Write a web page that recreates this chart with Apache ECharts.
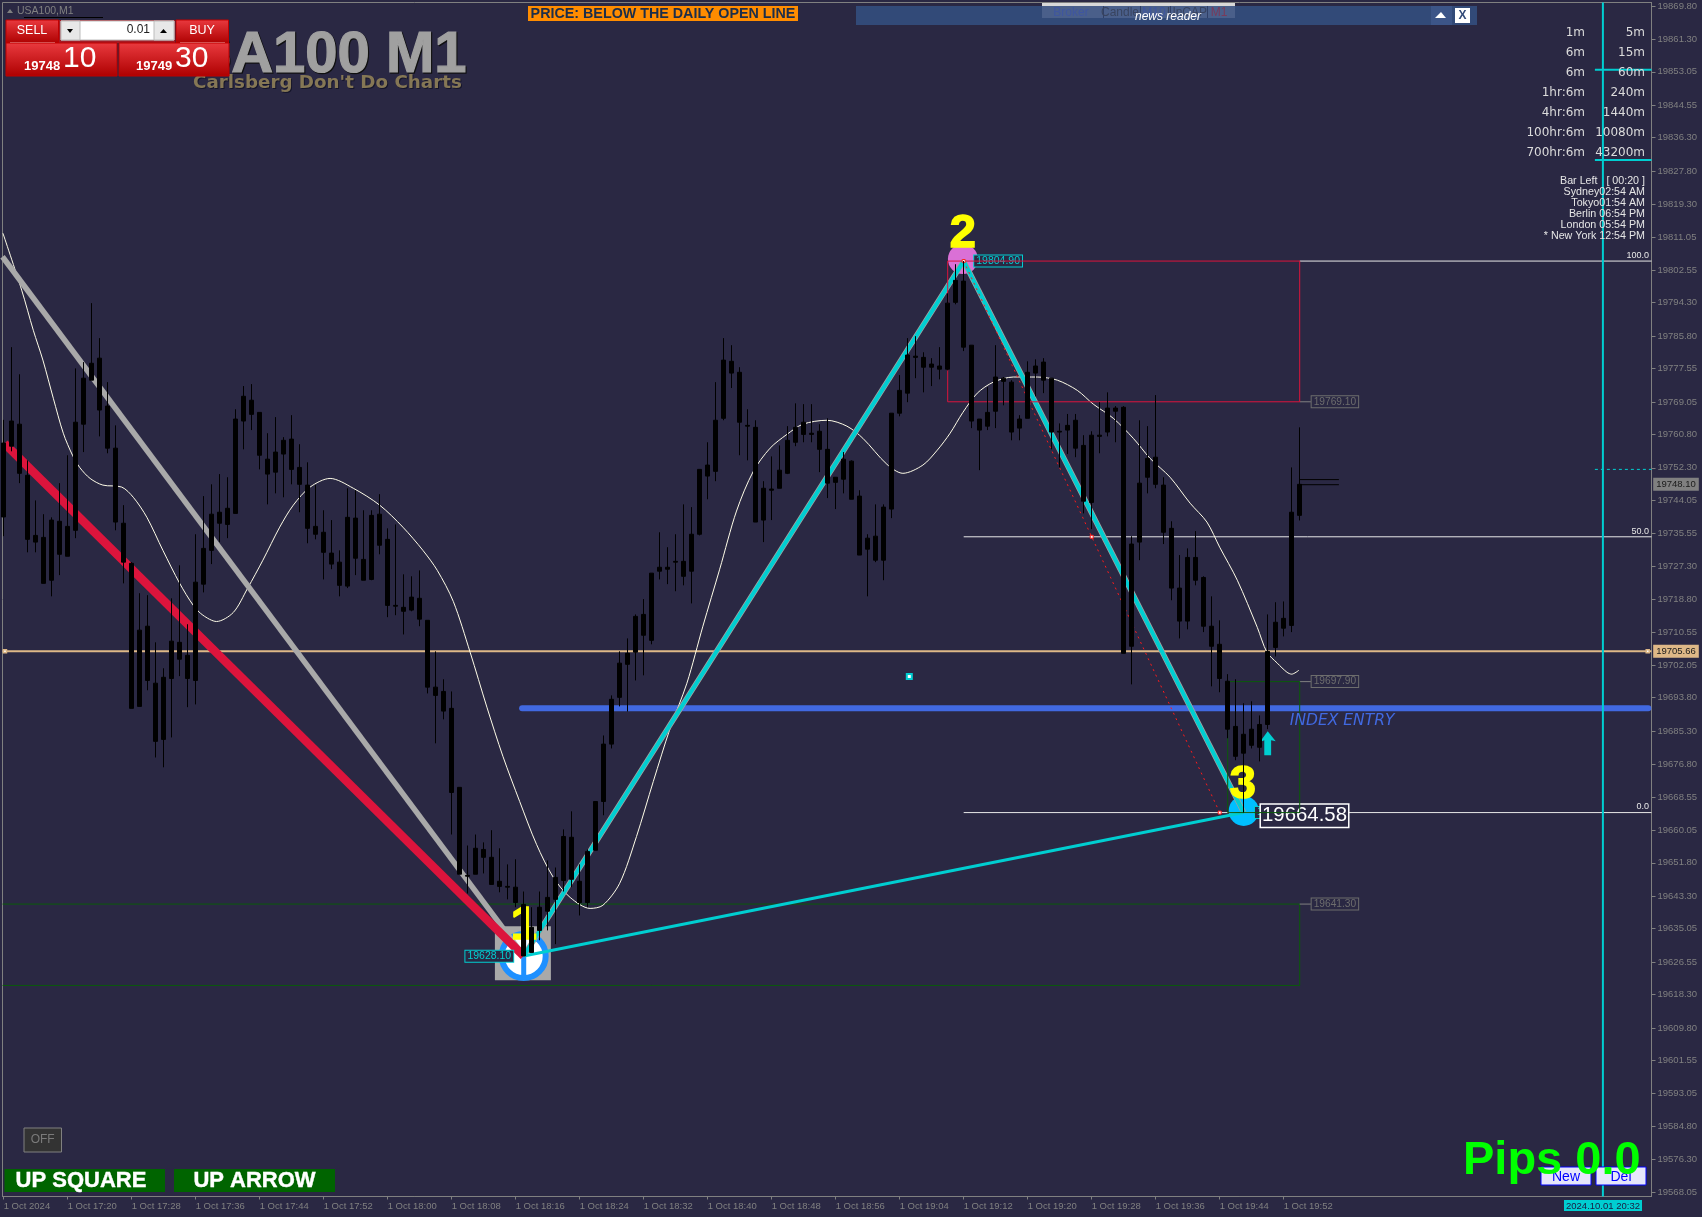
<!DOCTYPE html>
<html><head><meta charset="utf-8"><style>html,body{margin:0;padding:0;background:#2a2843;overflow:hidden}#c{width:1702px;height:1217px}</style>
<script src="https://cdn.jsdelivr.net/npm/echarts@6/dist/echarts.min.js"></script></head><body><div id="c"></div><script>
const highs=[19764.5,19783.0,19776.1,19754.2,19744.0,19740.5,19739.7,19748.4,19755.5,19777.6,
19779.2,19794.2,19785.3,19774.1,19763.1,19742.8,19728.3,19720.4,19719.9,19707.9,
19701.3,19719.1,19727.5,19712.5,19735.4,19745.1,19748.1,19750.7,19749.9,19767.2,
19773.1,19773.6,19766.4,19761.1,19765.2,19760.1,19765.7,19758.3,19753.7,19747.9,
19741.5,19739.0,19731.3,19747.1,19746.6,19741.5,19741.5,19745.6,19736.9,19737.9,
19725.2,19724.7,19726.2,19713.5,19705.6,19698.5,19695.4,19671.0,19656.2,19659.0,
19657.0,19660.1,19655.5,19651.4,19652.7,19644.5,19640.5,19644.5,19652.4,19650.6,
19660.3,19664.9,19651.4,19655.2,19667.4,19684.2,19694.4,19705.6,19708.9,19715.0,
19718.9,19725.5,19735.9,19732.1,19735.4,19743.0,19742.3,19751.9,19758.8,19774.1,
19785.3,19783.5,19777.9,19767.2,19764.4,19748.9,19755.2,19758.0,19762.9,19768.7,
19768.5,19768.5,19763.4,19764.9,19749.9,19756.3,19754.2,19746.6,19735.4,19743.0,
19743.0,19766.2,19775.9,19785.3,19785.8,19781.7,19780.2,19783.0,19796.7,19804.1,
19804.9,19783.5,19764.7,19772.8,19783.5,19775.4,19774.6,19765.7,19779.4,19779.9,
19780.2,19775.1,19763.6,19766.0,19766.0,19760.6,19761.6,19769.0,19771.5,19768.0,
19768.0,19734.9,19764.4,19762.9,19770.8,19749.9,19738.7,19730.1,19731.8,19736.2,
19724.7,19719.6,19713.5,19699.8,19698.5,19692.4,19692.9,19689.3,19715.0,19718.1,
19718.3,19752.4,19762.6];
const bodyTops=[19758.6,19764.2,19763.4,19750.4,19735.1,19734.6,19739.0,19738.7,19737.4,19763.9,
19775.1,19778.9,19780.2,19768.0,19757.3,19738.2,19728.0,19711.0,19712.0,19697.5,
19699.0,19708.2,19707.9,19704.6,19723.2,19731.8,19740.5,19741.0,19742.0,19764.7,
19770.5,19769.5,19766.4,19754.5,19756.3,19759.3,19759.6,19752.4,19747.9,19737.4,
19735.9,19730.6,19728.3,19739.7,19739.5,19729.0,19740.2,19740.5,19734.1,19717.3,
19716.8,19719.4,19719.1,19713.5,19696.5,19695.4,19691.1,19671.0,19648.6,19655.5,
19655.2,19653.2,19647.1,19645.8,19645.6,19641.2,19635.4,19640.5,19643.0,19648.1,
19658.5,19658.3,19647.1,19654.7,19667.4,19682.0,19693.4,19702.6,19705.1,19714.5,
19715.0,19725.5,19727.0,19727.0,19728.5,19728.5,19735.4,19751.9,19753.0,19764.4,
19779.7,19779.4,19776.6,19763.1,19762.6,19747.1,19746.9,19751.7,19759.3,19762.6,
19763.9,19761.1,19761.6,19757.0,19749.9,19754.5,19754.0,19745.1,19734.4,19734.9,
19742.3,19766.2,19772.0,19781.0,19780.7,19780.4,19778.7,19778.2,19794.2,19800.0,
19799.8,19783.5,19764.7,19766.4,19775.4,19775.1,19774.1,19764.7,19776.6,19778.2,
19779.2,19775.1,19761.6,19763.1,19764.4,19758.0,19760.6,19760.6,19767.5,19767.5,
19767.7,19732.9,19748.4,19754.7,19755.0,19747.9,19736.9,19721.7,19729.5,19729.5,
19724.4,19712.0,19707.4,19698.0,19686.5,19684.5,19685.8,19687.0,19705.6,19713.0,
19714.0,19741.0,19748.1];
const bodyBottoms=[19739.8,19757.8,19750.9,19734.1,19733.4,19722.9,19723.7,19730.3,19729.8,19736.4,
19763.4,19774.6,19767.0,19757.3,19738.5,19728.3,19691.1,19691.6,19698.2,19682.7,
19683.2,19698.7,19703.6,19698.7,19698.2,19722.7,19731.3,19738.2,19737.9,19740.7,
19764.2,19765.9,19755.5,19750.7,19751.2,19755.8,19751.9,19748.1,19736.9,19735.4,
19730.8,19727.8,19722.4,19722.2,19729.3,19723.7,19723.9,19732.6,19717.3,19717.1,
19715.8,19716.1,19713.8,19696.5,19694.4,19690.4,19669.7,19648.9,19648.4,19648.9,
19653.2,19646.3,19645.8,19645.6,19641.7,19628.1,19629.0,19634.6,19639.5,19642.5,
19647.3,19647.6,19641.7,19641.7,19655.0,19667.4,19682.0,19693.9,19702.3,19705.4,
19709.7,19708.4,19726.0,19726.5,19728.3,19724.7,19726.0,19735.4,19750.2,19751.4,
19764.9,19776.4,19763.9,19762.9,19738.5,19739.0,19746.6,19747.1,19750.9,19758.8,
19760.8,19760.8,19757.0,19748.4,19748.6,19749.4,19744.3,19730.1,19731.6,19728.8,
19728.8,19741.8,19766.2,19771.3,19780.4,19777.9,19777.9,19777.4,19777.4,19794.4,
19783.0,19764.2,19761.9,19762.9,19766.7,19774.3,19761.4,19762.4,19764.9,19776.4,
19774.6,19761.4,19761.4,19761.9,19757.3,19743.8,19743.5,19760.3,19761.4,19766.7,
19705.1,19706.9,19733.4,19749.9,19748.1,19735.9,19721.7,19713.3,19713.3,19723.7,
19712.0,19706.9,19698.7,19685.8,19678.9,19679.7,19681.7,19681.2,19687.0,19706.6,
19711.5,19712.2,19740.2];
const lows=[19734.9,19756.5,19748.4,19730.8,19730.8,19722.9,19719.6,19725.0,19729.8,19734.4,
19756.3,19774.6,19760.3,19756.0,19736.4,19722.9,19691.1,19691.6,19695.7,19678.6,
19676.1,19683.7,19699.3,19691.4,19692.1,19720.6,19727.8,19733.4,19734.4,19740.7,
19757.0,19761.9,19751.9,19743.0,19745.8,19744.8,19748.1,19741.0,19733.1,19734.1,
19723.9,19726.5,19719.6,19721.7,19725.0,19723.7,19723.7,19730.3,19714.3,19714.8,
19709.9,19715.8,19712.0,19694.9,19682.2,19688.3,19659.0,19648.9,19644.0,19648.9,
19649.1,19646.3,19644.3,19642.5,19640.5,19628.1,19629.0,19632.1,19634.6,19631.1,
19644.5,19645.6,19638.4,19640.5,19655.0,19663.9,19680.9,19691.6,19690.3,19698.2,
19699.5,19707.4,19723.9,19722.7,19720.9,19722.4,19717.8,19735.1,19744.3,19748.9,
19764.4,19772.6,19755.5,19754.2,19738.5,19733.4,19739.0,19747.1,19750.7,19757.8,
19758.8,19758.8,19751.2,19744.6,19741.8,19745.8,19744.3,19730.1,19719.6,19728.3,
19723.7,19739.5,19765.4,19769.0,19775.1,19771.5,19773.1,19774.8,19777.1,19793.9,
19782.0,19762.4,19751.7,19761.9,19762.4,19768.2,19759.3,19759.3,19764.9,19770.5,
19771.3,19757.0,19752.4,19755.8,19755.0,19740.7,19736.7,19756.0,19760.3,19758.8,
19705.1,19697.2,19728.8,19745.8,19747.1,19732.9,19718.6,19708.9,19711.2,19722.4,
19710.5,19696.7,19695.2,19683.5,19677.9,19664.6,19680.9,19677.6,19685.8,19704.3,
19709.4,19710.5,19738.9];
const maBars=[-0.1,2.25,3.7,4.9,6.2,7.45,8.6,9.5,10.8,12.4,14.75,16.2,17.9,19.9,22,23.7,24.9,26.6,28.7,30.5,32.4,34.5,36.2,38.3,40.8,43.7,47,49.9,52.4,54.2,56.2,58.3,60.4,62.4,64.5,66.6,68.7,70.8,73.3,74.9,77,79.1,81.2,83.3,85.4,87.4,89.5,91.6,93.7,95.8,97.9,99.9,102.9,105.4,107.4,110.4,112.4,114.9,116.7,118.3,119.9,121.7,123.7,126.2,129.2,131.7,134.2,136.2,138.7,141.2,143.3,145.8,148.3,150.4,152,154.2,156.7,157.9,159.2,160.4,161,161.9];
const maPrices=[19812,19797.5,19787.3,19779.7,19770,19761.1,19755.5,19752.4,19749.6,19747.9,19747.4,19744.8,19739.7,19731.3,19722.9,19717.3,19714.8,19713.2,19715.5,19721.7,19728.8,19737.2,19742.8,19747.4,19749.6,19747.1,19742.8,19737.2,19731.3,19726.2,19718.3,19705.4,19691.4,19678.9,19667.4,19656.5,19648.1,19643,19640.2,19641,19646.6,19658.5,19672.5,19686,19697.5,19712,19726.5,19741.3,19751.4,19757.3,19760.8,19763.4,19764.4,19762.9,19759.8,19753.2,19750.9,19753,19756.8,19761.1,19766.4,19771.3,19774.1,19775.4,19775.4,19774.6,19772,19768.5,19764.9,19759.8,19754.7,19749.9,19743.3,19738.5,19732.1,19723.7,19711.7,19705.4,19702.6,19700.3,19699.8,19700.8];
const yTicks=[19869.80,19861.30,19853.05,19844.55,19836.30,19827.80,19819.30,19811.05,19802.55,19794.30,19785.80,19777.55,19769.05,19760.80,19752.30,19744.05,19735.55,19727.30,19718.80,19710.55,19702.05,19693.80,19685.30,19676.80,19668.55,19660.05,19651.80,19643.30,19635.05,19626.55,19618.30,19609.80,19601.55,19593.05,19584.80,19576.30,19568.05];
const xTickBars=[0,8,16,24,32,40,48,56,64,72,80,88,96,104,112,120,128,136,144,152,160];
const xTickLabels=['1 Oct 2024','1 Oct 17:20','1 Oct 17:28','1 Oct 17:36','1 Oct 17:44','1 Oct 17:52','1 Oct 18:00','1 Oct 18:08','1 Oct 18:16','1 Oct 18:24','1 Oct 18:32','1 Oct 18:40','1 Oct 18:48','1 Oct 18:56','1 Oct 19:04','1 Oct 19:12','1 Oct 19:20','1 Oct 19:28','1 Oct 19:36','1 Oct 19:44','1 Oct 19:52'];
const point1=[65,19628.1], point2=[120,19804.9], point3=[155,19664.58];
const BG='#2a2843',GR='#808080',TEAL='#00ced1',CRIM='#dc143c',TAN='#deb887',ROY='#4169e1',DKG='#0b5a0b';
const XMIN=-0.15,XMAX=205.975;

function L(name,pts,color,width,z,extra){return Object.assign({type:'line',name,data:pts,symbol:'none',silent:true,z,animation:false,
  lineStyle:Object.assign({color,width},extra&&extra.ls||{})},extra&&extra.s||{});}
function M(pts,opt){return {type:'scatter',data:pts,silent:true,animation:false,clip:false,z:opt.z||3,symbol:opt.symbol||'circle',symbolSize:opt.size||1,
  itemStyle:Object.assign({color:'rgba(0,0,0,0)',opacity:1},opt.item||{}),label:opt.label};}
function T(pos,text,color,font,size,weight,z,extra){return M([pos],{size:1,z:z||3,label:Object.assign({show:true,position:'inside',opacity:1,formatter:()=>text,color,fontFamily:font,fontSize:size,fontWeight:weight||'normal'},extra||{})});}
function box(pos,text,color,z,fs){return T(pos,text,color,'Liberation Sans',fs||10.5,'normal',z||3,{borderColor:color,borderWidth:1,padding:[1,2,0,2],backgroundColor:BG,lineHeight:10});}
const YEL={textBorderColor:'#ffff00',textBorderWidth:1.5};

const series=[
 L('green box',[[XMIN,19641.3],[162,19641.3],[162,19620.6],[XMIN,19620.6]],DKG,1,2),
 M([[64.9,19628.8]],{symbol:'rect',size:[56,54],z:2,item:{color:'#a9a9a9'}}),
 M([[65,19628.1]],{size:44,z:2.1,item:{color:'#ffffff',borderColor:'#1e90ff',borderWidth:6}}),
 M([[65,19628.1]],{symbol:'rect',size:[5,44],z:2.2,item:{color:'#1e90ff'}}),
 M([[119.9,19805.4]],{size:30,z:2,item:{color:'#da70d6'}}),
 M([[155,19665.0]],{size:30,z:2,item:{color:'#00bfff'}}),
 L('fib 50',[[120,19734.75],[XMAX,19734.75]],'#e8e8e8',1,2.3),
 L('fib 0',[[120,19664.58],[XMAX,19664.58]],'#e8e8e8',1,2.3),
 L('fib 100',[[162,19804.9],[XMAX,19804.9]],'#e8e8e8',1,2.3),
 L('daily open',[[XMIN,19705.66],[XMAX,19705.66]],TAN,2,2.4),
 L('entry',[[64.8,19691.1],[XMAX-0.4,19691.1]],ROY,6,2.5,{ls:{cap:'round'}}),
 L('ma',maBars.map((b,i)=>[b,maPrices[i]]),'#fffde8',1,2.6,{s:{smooth:0.3}}),
 L('grey leg',[[XMIN,19806],point1],'#a9a9a9',5.5,2.7),
 L('red leg',[[0.1,19758.5],point1],CRIM,8.5,2.8),
 L('grey zig',[point1,point2,point3],'#a0a0a0',5.5,2.9),
 L('teal zig',[point1,point2,point3],TEAL,4,3),
 L('teal base',[point1,point3],TEAL,3,3),
 L('dash',[point2,[136,19734.75],[152,19664.58]],'#ff1a1a',1,3,{ls:{type:[2,4]}}),
 box([124.3,19804.9],'19804.90',TEAL,3),
 box([60.7,19628],'19628.10',TEAL,3),
 box([159.4,19664.58],'19664.58',TEAL,3),
 T([162.6,19663.8],'19664.58','#ffffff','Liberation Sans',20.4,'normal',3.2,{borderColor:'#ffffff',borderWidth:1.5,padding:[0,1,0,1],backgroundColor:BG,lineHeight:22}),
 L('red box',[[118,19804.9],[162,19804.9],[162,19769.1],[118,19769.1],[118,19804.9]],CRIM,1,4),
 L('near box',[[153,19664.58],[162,19664.58],[162,19697.9],[153,19697.9],[153,19664.58]],DKG,1,4),
 L('c1',[[162,19769.1],[163.4,19769.1]],GR,1,2.5),L('c2',[[162,19697.9],[163.4,19697.9]],GR,1,2.5),L('c3',[[162,19641.3],[163.4,19641.3]],GR,1,2.5),
 box([166.4,19769.1],'19769.10','#6d6d6d',3,10.2),
 box([166.4,19697.9],'19697.90','#6d6d6d',3,10.2),
 box([166.4,19641.3],'19641.30','#6d6d6d',3,10.2),
 T([154.9,19671.5],'3','#ffff00','Liberation Sans',47,'bold',5,YEL),
 T([119.9,19811.9],'2','#ffff00','Liberation Sans',47,'bold',5,YEL),
 T([65,19635.6],'1','#ffff00','Liberation Sans',47,'bold',5,YEL),
 T([167.3,19687.9],'INDEX ENTRY',ROY,'DejaVu Sans',15.5,'normal',5,{fontStyle:'italic'}),
 M([[113.2,19699.2]],{symbol:'rect',size:5,z:5,item:{color:'#ffffff',borderColor:TEAL,borderWidth:2}}),
 M([[158,19682.2]],{symbol:'path://M7 0 L14 10 L10 9 L10 24 L4 24 L4 9 L0 11 Z',size:[16,24],z:5,item:{color:TEAL}}),
 M([[120,19804.9],[136,19734.75],[152,19664.58]],{symbol:'rect',size:3,z:6,item:{color:'#fff',borderColor:'#ff1a1a',borderWidth:1}}),
 M([[0.16,19705.66],[205.5,19705.66]],{symbol:'rect',size:3,z:6,item:{color:'#fff',borderColor:TAN,borderWidth:1.5}}),
 {type:'candlestick',name:'USA100,M1',z:10,silent:true,animation:false,barWidth:4,clip:true,
  data:highs.map((h,i)=>[i,bodyTops[i],bodyBottoms[i],lows[i],h]),
  itemStyle:{color:'#000',color0:'#000',borderColor:'#000',borderColor0:'#000',borderWidth:1}},
 L('bid',[[162,19749.3],[166.9,19749.3]],'#000',1,9),L('ask',[[162,19748.0],[166.9,19748.0]],'#000',1,9),
 L('time line',[[199.9,19566.9],[199.9,19870.69]],TEAL,2,11),
 L('range hi',[[198.9,19853.6],[XMAX,19853.6]],TEAL,2,11),
 L('range lo',[[198.9,19830.6],[XMAX,19830.6]],TEAL,2,11),
 L('ref',[[198.9,19751.9],[XMAX,19751.9]],TEAL,1,11,{ls:{type:[3,3]}}),
 T([XMAX,19806.3],'100.0','#e8e8e8','Liberation Sans',9,'normal',12,{position:'left',distance:2}),
 T([XMAX,19736.2],'50.0','#e8e8e8','Liberation Sans',9,'normal',12,{position:'left',distance:2}),
 T([XMAX,19666.0],'0.0','#e8e8e8','Liberation Sans',9,'normal',12,{position:'left',distance:2}),
 T([XMAX,19705.66],'19705.66','#1a1a1a','Liberation Sans',9.5,'normal',12,{offset:[24.5,0],backgroundColor:TAN,padding:[2,3,1,3]}),
 T([XMAX,19748.1],'19748.10','#1a1a1a','Liberation Sans',9.5,'normal',12,{offset:[24.5,0],backgroundColor:'#808080',padding:[2,3,1,3]})
];

function rect(x,y,w,h,fill,stroke,lw,z){return {type:'rect',shape:{x,y,width:w,height:h},style:{fill,stroke:stroke||null,lineWidth:lw||0},silent:true,z:z||20};}
function txt(x,y,t,font,fill,align,z,stroke,sw){return {type:'text',style:{x,y,text:t,font,fill,textAlign:align||'left',textVerticalAlign:'middle',stroke:stroke||null,lineWidth:sw||0},silent:true,z:z||21};}
function tri(pts,fill,z){return {type:'polygon',shape:{points:pts},style:{fill},silent:true,z:z||21};}
const redG=()=>new echarts.graphic.LinearGradient(0,0,0,1,[{offset:0,color:'#ea3a3f'},{offset:1,color:'#ad0000'}]);
const tfLeft=['1m','6m','6m','1hr:6m','4hr:6m','100hr:6m','700hr:6m'],tfRight=['5m','15m','60m','240m','1440m','10080m','43200m'];
const clocks=['Bar Left   [ 00:20 ]','Sydney02:54 AM','Tokyo01:54 AM','Berlin 06:54 PM','London 05:54 PM','* New York 12:54 PM'];
const tabs=[['Broker',1071,'#3f56a0'],['Candle',1120,'#39445f'],['M10',1154,'#3f56a0'],['UnCAP',1187,'#39445f'],['M1',1219,'#7a3a5a']];
const SANS='Liberation Sans';
const G=[
 txt(467.5,56.5,'USA100 M1','bold 58px '+SANS,'#111','right',14,'#111',1.5),
 txt(466.5,55.5,'USA100 M1','bold 58px '+SANS,'#a0a0a0','right',15,'#a0a0a0',1.2),
 txt(194,84,"Carlsberg Don't Do Charts",'bold 18.3px DejaVu Sans','#15152a','left',14),
 txt(193,83,"Carlsberg Don't Do Charts",'bold 18.3px DejaVu Sans','#857755','left',15),
 tri([[7,13],[13,13],[10,9]],'#808080'),txt(17,11,'USA100,M1','10.5px '+SANS,'#808080'),
 rect(24,17,79,1,'#000'),
 rect(6,20,52.5,23,redG(),'#c00000',1),rect(10,42,45,1,'#e8a0a0'),txt(32,31,'SELL','12.5px '+SANS,'#fff','center'),
 rect(176,20,52.5,23,redG(),'#c00000',1),rect(180,42,45,1,'#e8a0a0'),txt(202,31,'BUY','12.5px '+SANS,'#fff','center'),
 rect(59,20,116,23,'#a51a24'),
 rect(61,21,113,19,'#ffffff','#bcbcbc',1),rect(61,21,19,19,'#e8e8e8','#bcbcbc',1),rect(154,21,20,19,'#e8e8e8','#bcbcbc',1),
 tri([[67,29],[73,29],[70,33]],'#000'),tri([[160,33],[167,33],[163.5,29]],'#000'),txt(150,30,'0.01','12px '+SANS,'#222','right'),
 rect(6,43,111,33,redG(),'#c00000',1),rect(119,43,110,33,redG(),'#c00000',1),
 txt(24,66,'19748','bold 13px '+SANS,'#fff'),txt(63,59,'10','30px '+SANS,'#fff'),
 txt(136,66,'19749','bold 13px '+SANS,'#fff'),txt(175,59,'30','30px '+SANS,'#fff'),
 rect(528,6,270,15,'#ff8c00'),txt(663,14.5,'PRICE: BELOW THE DAILY OPEN LINE','bold 14.3px '+SANS,'#1c2e4a','center'),
 rect(1042,3,193,3,'#d8d8d8'),
 rect(856,6,621,19,'#324a78'),rect(1042,6,193,12,'#4a5f8a'),
 ...[1103,1140,1170,1207].map(x=>rect(x,6,1,12,'#2f3f66')),
 ...tabs.map(t=>txt(t[1],12.5,t[0],'12px '+SANS,t[2],'center')),
 txt(1168,16.5,'news reader','italic 12px '+SANS,'#fff','center'),
 rect(1431,6,21,19,'#3c5588'),rect(1455,8,15,15,'#fff'),
 tri([[1435,18],[1446,18],[1441,12]],'#fff'),
 txt(1462.5,15.5,'X','bold 12px '+SANS,'#324a78','center'),
 ...tfLeft.map((t,i)=>txt(1585,33+20*i,t,'12px DejaVu Sans','#dcdcdc','right')),
 ...tfRight.map((t,i)=>txt(1645,33+20*i,t,'12px DejaVu Sans','#dcdcdc','right')),
 ...clocks.map((t,i)=>txt(1645,181+11*i,t,'10.7px '+SANS,'#e6e6e6','right')),
 rect(24,1128,37.5,24,'#333333','#808080',1),txt(42.7,1140,'OFF','12px '+SANS,'#7a7a7a','center'),
 rect(4.5,1169,160.5,23,'#006400'),txt(81,1181,'UP SQUARE','bold 22px '+SANS,'#fff','center',21,'#fff',0.4),
 rect(174,1169,161,23,'#006400'),txt(254.5,1181,'UP ARROW','bold 22px '+SANS,'#fff','center',21,'#fff',0.4),
 rect(1541,1167,50,18,'#e6e6fa','#0000ff',1),txt(1566,1177,'New','14px '+SANS,'#0000ff','center'),
 rect(1596,1167,50,18,'#e6e6fa','#0000ff',1),txt(1621,1177,'Del','14px '+SANS,'#0000ff','center'),
 txt(1463,1161,'Pips 0.0','bold 47px '+SANS,'#00ff00','left',22),
 rect(1564,1200,78,11,TEAL),txt(1603,1206,'2024.10.01 20:32','9.5px '+SANS,'#1a1a40','center')
];

const chart=echarts.init(document.getElementById('c'),null,{renderer:'canvas',width:1702,height:1217});
chart.setOption({animation:false,backgroundColor:BG,
 grid:{left:2.5,top:2.5,width:1649,height:1194,show:true,borderColor:GR,borderWidth:1,backgroundColor:BG},
 xAxis:{type:'value',min:XMIN,max:XMAX,splitLine:{show:false},
  axisLine:{show:true,onZero:false,lineStyle:{color:GR}},
  axisTick:{show:true,length:3,lineStyle:{color:GR},customValues:xTickBars},
  axisLabel:{customValues:xTickBars,color:GR,fontFamily:SANS,fontSize:9.5,margin:5,align:'left',hideOverlap:false,showMinLabel:true,showMaxLabel:true,
   formatter:v=>xTickLabels[xTickBars.indexOf(v)]}},
 yAxis:{type:'value',position:'right',min:19566.9,max:19870.69,splitLine:{show:false},
  axisLine:{show:true,onZero:false,lineStyle:{color:GR}},
  axisTick:{show:true,length:4,lineStyle:{color:GR},customValues:yTicks},
  axisLabel:{customValues:yTicks,color:GR,fontFamily:SANS,fontSize:9.5,margin:6,padding:[3,0,0,0],hideOverlap:false,formatter:v=>v.toFixed(2)}},
 series,
 graphic:{elements:G}
});
</script></body></html>
